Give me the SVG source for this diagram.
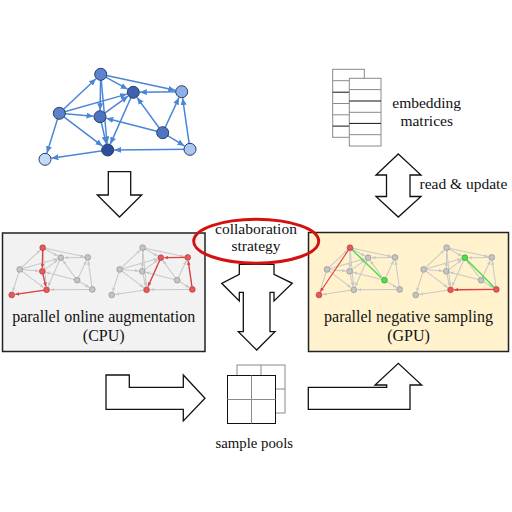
<svg xmlns="http://www.w3.org/2000/svg" xmlns:xlink="http://www.w3.org/1999/xlink" width="512" height="512" viewBox="0 0 512 512">
<style>
text{font-family:"Liberation Serif","DejaVu Serif",serif;font-size:15.5px;fill:#111}
.c{text-anchor:middle}
.lbl{font-size:16px}
.sp{font-size:14.8px}
.blk{fill:#fff;stroke:#111;stroke-width:1.3;stroke-linejoin:miter}
.gn{fill:#c4c4c4;stroke:#8a8a8a;stroke-width:1.1}
.rn{fill:#e45a5a;stroke:#b83030;stroke-width:1.1}
.grn{fill:#4ee04e;stroke:#229922;stroke-width:1.1}
.bn{stroke:#2c3e66;stroke-width:1}
.mat{fill:#fff;stroke:#8a8a8a;stroke-width:1}
</style>
<defs>
<marker id="mb" markerUnits="userSpaceOnUse" markerWidth="8" markerHeight="8" refX="7" refY="3" orient="auto"><path d="M0,0 L7,3 L0,6 Z" fill="#4a86d8"/></marker>
<marker id="mg" markerUnits="userSpaceOnUse" markerWidth="8" markerHeight="8" refX="7" refY="3" orient="auto"><path d="M0,0 L7,3 L0,6 Z" fill="#c8c8c8"/></marker>
<marker id="mr" markerUnits="userSpaceOnUse" markerWidth="8" markerHeight="8" refX="7" refY="3" orient="auto"><path d="M0,0 L7,3 L0,6 Z" fill="#e04040"/></marker>
</defs>

<!-- big graph connectors -->
<g stroke="#4a86d8" stroke-width="1.5" fill="none" marker-end="url(#mb)">
<g id="connectors">
<line x1="100.7" y1="74.3" x2="127.6" y2="89.2"/>
<line x1="100.7" y1="74.3" x2="175.3" y2="90.3"/>
<line x1="59.3" y1="113.3" x2="96.0" y2="78.8"/>
<line x1="100.7" y1="74.3" x2="100.1" y2="110.2"/>
<line x1="100.7" y1="74.3" x2="107.1" y2="143.5"/>
<line x1="181.7" y1="91.7" x2="139.8" y2="92.2"/>
<line x1="59.3" y1="113.3" x2="127.0" y2="94.1"/>
<line x1="59.3" y1="113.3" x2="93.5" y2="116.2"/>
<line x1="59.3" y1="113.3" x2="102.5" y2="146.1"/>
<line x1="59.3" y1="113.3" x2="46.9" y2="153.1"/>
<line x1="100" y1="116.7" x2="128.1" y2="96.1"/>
<line x1="100" y1="116.7" x2="106.2" y2="143.7"/>
<line x1="162.7" y1="132.7" x2="137.1" y2="97.6"/>
<line x1="162.7" y1="132.7" x2="179.0" y2="97.6"/>
<line x1="162.7" y1="132.7" x2="106.3" y2="118.3"/>
<line x1="162.7" y1="132.7" x2="184.4" y2="145.9"/>
<line x1="190" y1="149.3" x2="182.6" y2="98.1"/>
<line x1="190" y1="149.3" x2="114.2" y2="149.9"/>
<line x1="133.3" y1="92.3" x2="110.3" y2="144.1"/>
<line x1="107.7" y1="150" x2="51.4" y2="158.3"/>
</g>
</g>
<g id="big-nodes" class="bn">
<g id="nA"><circle cx="100.7" cy="74.3" r="6" fill="#5b84d0"/></g>
<g id="nB"><circle cx="133.3" cy="92.3" r="6" fill="#3d62b0"/></g>
<g id="nC"><circle cx="181.7" cy="91.7" r="6" fill="#8db0e6"/></g>
<g id="nD"><circle cx="59.3" cy="113.3" r="6" fill="#5c80cc"/></g>
<g id="nE"><circle cx="100" cy="116.7" r="6" fill="#4d72c0"/></g>
<g id="nF"><circle cx="162.7" cy="132.7" r="6" fill="#5074c2"/></g>
<g id="nG"><circle cx="107.7" cy="150" r="6" fill="#2b4f9c"/></g>
<g id="nH"><circle cx="190" cy="149.3" r="6" fill="#a9c7f0"/></g>
<g id="nI"><circle cx="45" cy="159.3" r="6" fill="#c4dbf7"/></g>
</g>

<!-- down arrow -->
<g id="arrow-down">
<polygon class="blk" points="108.3,171.7 130.7,171.7 130.7,195 141.7,195 119.5,217 97.3,195 108.3,195"/>
</g>

<!-- embedding matrices -->
<g id="embedding-matrices">
<rect class="mat" x="332.7" y="69.3" width="31.6" height="68"/>
<g stroke="#8a8a8a" stroke-width="1">
<line x1="332.7" y1="80.7" x2="364.3" y2="80.7"/>
<line x1="332.7" y1="103.5" x2="364.3" y2="103.5"/>
<line x1="332.7" y1="114.8" x2="364.3" y2="114.8"/>
</g>
<g stroke="#111" stroke-width="1">
<line x1="332.7" y1="92.2" x2="364.3" y2="92.2"/>
<line x1="332.7" y1="126.1" x2="364.3" y2="126.1"/>
</g>
<rect class="mat" x="349.3" y="78.3" width="31.7" height="67.7"/>
<g stroke="#8a8a8a" stroke-width="1">
<line x1="349.3" y1="89.6" x2="381" y2="89.6"/>
<line x1="349.3" y1="112.3" x2="381" y2="112.3"/>
<line x1="349.3" y1="134.7" x2="381" y2="134.7"/>
</g>
<g stroke="#111" stroke-width="1">
<line x1="349.3" y1="101" x2="381" y2="101"/>
<line x1="349.3" y1="123.4" x2="381" y2="123.4"/>
</g>
<text class="c" x="426.7" y="107.7">embedding</text>
<text class="c" x="426.7" y="125.7">matrices</text>
</g>

<!-- read & update arrow -->
<g id="read-update">
<polygon class="blk" points="398.3,154 421,175 410,175 410,196.5 421,196.5 398.3,217 376,196.5 386.5,196.5 386.5,175 376,175"/>
<text x="419.5" y="188.5">read &amp; update</text>
</g>

<!-- CPU box -->
<g id="cpu-box">
<rect x="2.5" y="233" width="202.5" height="118.5" fill="#f2f2f2" stroke="#222" stroke-width="1.5"/>
<g transform="translate(-13.3,206.4) scale(0.556)">
<use href="#connectors" stroke="#c8c8c8" stroke-width="1.8" fill="none" marker-end="url(#mg)"/>
<g stroke="#e04040" stroke-width="2.4" marker-end="url(#mr)">
<line x1="100.7" y1="74.3" x2="100.1" y2="110.2"/>
<line x1="100" y1="116.7" x2="106.2" y2="143.7"/>
<line x1="107.7" y1="150" x2="51.4" y2="158.3"/>
</g>
<circle class="rn" cx="100.7" cy="74.3" r="5.2"/>
<circle class="gn" cx="133.3" cy="92.3" r="5.2"/>
<circle class="gn" cx="181.7" cy="91.7" r="5.2"/>
<circle class="gn" cx="59.3" cy="113.3" r="5.2"/>
<circle class="rn" cx="100" cy="116.7" r="5.2"/>
<circle class="gn" cx="162.7" cy="132.7" r="5.2"/>
<circle class="rn" cx="107.7" cy="150" r="5.2"/>
<circle class="gn" cx="190" cy="149.3" r="5.2"/>
<circle class="rn" cx="45" cy="159.3" r="5.2"/>
</g>
<g transform="translate(86.7,206.4) scale(0.556)">
<use href="#connectors" stroke="#c8c8c8" stroke-width="1.8" fill="none" marker-end="url(#mg)"/>
<g stroke="#e04040" stroke-width="2.4" marker-end="url(#mr)">
<line x1="181.7" y1="91.7" x2="139.8" y2="92.2"/>
<line x1="190" y1="149.3" x2="182.6" y2="98.1"/>
<line x1="133.3" y1="92.3" x2="110.3" y2="144.1"/>
</g>
<circle class="gn" cx="100.7" cy="74.3" r="5.2"/>
<circle class="rn" cx="133.3" cy="92.3" r="5.2"/>
<circle class="rn" cx="181.7" cy="91.7" r="5.2"/>
<circle class="gn" cx="59.3" cy="113.3" r="5.2"/>
<circle class="gn" cx="100" cy="116.7" r="5.2"/>
<circle class="gn" cx="162.7" cy="132.7" r="5.2"/>
<circle class="rn" cx="107.7" cy="150" r="5.2"/>
<circle class="rn" cx="190" cy="149.3" r="5.2"/>
<circle class="gn" cx="45" cy="159.3" r="5.2"/>
</g>
<text class="c lbl" x="103.7" y="322.3">parallel online augmentation</text>
<text class="c lbl" x="103.7" y="340.7">(CPU)</text>
</g>

<!-- GPU box -->
<g id="gpu-box">
<rect x="308.5" y="232.5" width="200" height="119" fill="#fff2cc" stroke="#222" stroke-width="1.5"/>
<g transform="translate(294,206.4) scale(0.556)">
<use href="#connectors" stroke="#c8c8c8" stroke-width="1.8" fill="none" marker-end="url(#mg)"/>
<line x1="100.7" y1="74.3" x2="157" y2="128.5" stroke="#44dd44" stroke-width="2.4"/>
<line x1="100.7" y1="74.3" x2="47.5" y2="153.5" stroke="#e04040" stroke-width="2" marker-end="url(#mr)"/>
<circle class="rn" cx="100.7" cy="74.3" r="5.2"/>
<circle class="gn" cx="133.3" cy="92.3" r="5.2"/>
<circle class="gn" cx="181.7" cy="91.7" r="5.2"/>
<circle class="gn" cx="59.3" cy="113.3" r="5.2"/>
<circle class="gn" cx="100" cy="116.7" r="5.2"/>
<circle class="grn" cx="162.7" cy="132.7" r="5.2"/>
<circle class="gn" cx="107.7" cy="150" r="5.2"/>
<circle class="gn" cx="190" cy="149.3" r="5.2"/>
<circle class="rn" cx="45" cy="159.3" r="5.2"/>
</g>
<g transform="translate(390.7,206.4) scale(0.556)">
<use href="#connectors" stroke="#c8c8c8" stroke-width="1.8" fill="none" marker-end="url(#mg)"/>
<line x1="133.3" y1="92.3" x2="190" y2="149.3" stroke="#44dd44" stroke-width="2.4"/>
<line x1="190" y1="149.3" x2="114.2" y2="149.9" stroke="#e04040" stroke-width="2.4" marker-end="url(#mr)"/>
<circle class="gn" cx="100.7" cy="74.3" r="5.2"/>
<circle class="grn" cx="133.3" cy="92.3" r="5.2"/>
<circle class="gn" cx="181.7" cy="91.7" r="5.2"/>
<circle class="gn" cx="59.3" cy="113.3" r="5.2"/>
<circle class="gn" cx="100" cy="116.7" r="5.2"/>
<circle class="gn" cx="162.7" cy="132.7" r="5.2"/>
<circle class="rn" cx="107.7" cy="150" r="5.2"/>
<circle class="rn" cx="190" cy="149.3" r="5.2"/>
<circle class="gn" cx="45" cy="159.3" r="5.2"/>
</g>
<text class="c lbl" x="408.5" y="322.3">parallel negative sampling</text>
<text class="c lbl" x="408.5" y="340.7">(GPU)</text>
</g>

<!-- collaboration strategy -->
<g id="collab">
<polygon class="blk" points="239.3,264.3 274,264.3 274,274.3 292.3,283.3 274,301 274,292.3 270,292.3 270,331.7 275,331.7 256.7,350 238.3,331.7 243.3,331.7 243.3,292.3 239.3,292.3 239.3,301 221.7,283.3 239.3,274.3"/>
<ellipse cx="256.2" cy="241.2" rx="62.5" ry="22" fill="none" stroke="#d41010" stroke-width="3"/>
<text class="c" x="256" y="233.5">collaboration</text>
<text class="c" x="256" y="251">strategy</text>
</g>

<!-- sample pools -->
<g id="arrow-to-pools">
<polygon class="blk" points="106,375 129.3,375 129.3,387.3 183.3,387.3 183.3,375 205,398.3 183.3,421 183.3,409.3 106,409.3"/>
</g>
<g id="sample-pools">
<rect x="237" y="365" width="48" height="48" fill="#fff" stroke="#8a8a8a" stroke-width="1"/>
<line x1="261" y1="365" x2="261" y2="413" stroke="#8a8a8a"/>
<line x1="237" y1="389" x2="285" y2="389" stroke="#8a8a8a"/>
<rect x="227.5" y="375.5" width="48" height="48" fill="#fff" stroke="#111" stroke-width="1"/>
<line x1="251.5" y1="375.5" x2="251.5" y2="423.5" stroke="#8a8a8a"/>
<line x1="227.5" y1="399.5" x2="275.5" y2="399.5" stroke="#8a8a8a"/>
<text class="c sp" x="254.3" y="448.3">sample pools</text>
</g>
<g id="arrow-to-gpu">
<polygon class="blk" points="308.3,387.3 386.7,387.3 386.7,385 375,385 398.3,363.3 421.7,385 410,385 410,409.3 308.3,409.3"/>
</g>
</svg>
